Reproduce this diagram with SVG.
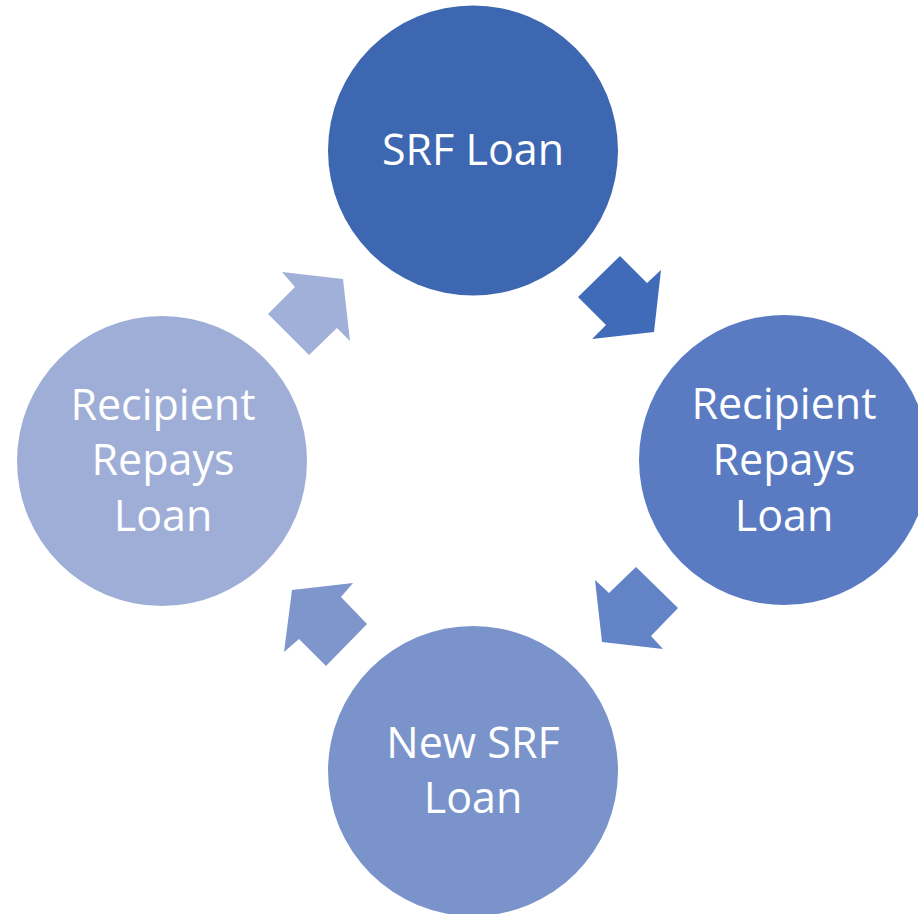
<svg xmlns="http://www.w3.org/2000/svg" width="918" height="914" viewBox="0 0 918 914">
<style>
.lbl{font-family:"Open Sans","Noto Sans",sans-serif;font-size:43px;fill:#ffffff;text-anchor:middle}
</style>
<rect width="918" height="914" fill="#ffffff"/>
<g id="connectors">
<polygon id="arrow-top-right" fill="#3F6BB8" points="620,256 647,283 661,270 654,332 592,339 606,325 578,297"/>
<polygon id="arrow-bottom-right" fill="#6383C7" points="636,567 678,608 651,636 663,649 602,642 595,580 609,593"/>
<polygon id="arrow-bottom-left" fill="#7E96CC" points="292,590 353,583 341,597 367,624 326,666 299,639 284,652"/>
<polygon id="arrow-top-left" fill="#A0B0D8" points="282,272 343,279 350,341 337,328 309,355 268,314 295,287"/>
</g>
<g id="node-srf-loan">
<circle cx="473" cy="150.5" r="145" fill="#3E67B1"/>
<text class="lbl" x="473" y="165">SRF Loan</text>
</g>
<g id="node-recipient-right">
<circle cx="784" cy="460" r="145" fill="#5A7BC2"/>
<text class="lbl" x="784" y="419">Recipient</text>
<text class="lbl" x="784" y="475">Repays</text>
<text class="lbl" x="784" y="531">Loan</text>
</g>
<g id="node-new-srf-loan">
<circle cx="473" cy="771" r="145" fill="#7A94CB"/>
<text class="lbl" x="473" y="758">New SRF</text>
<text class="lbl" x="473" y="813">Loan</text>
</g>
<g id="node-recipient-left">
<circle cx="162" cy="461" r="145" fill="#9EAED7"/>
<text class="lbl" x="163" y="420">Recipient</text>
<text class="lbl" x="163" y="475">Repays</text>
<text class="lbl" x="163" y="531">Loan</text>
</g>
</svg>
